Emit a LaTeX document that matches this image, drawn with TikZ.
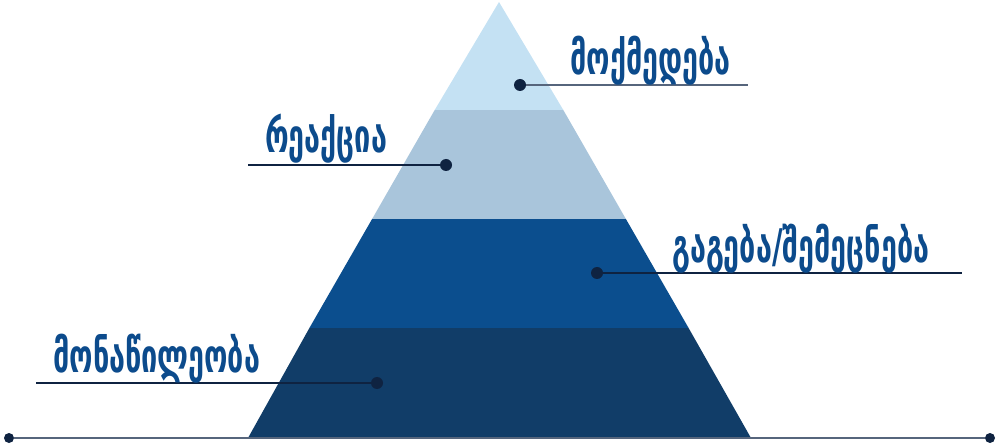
\documentclass[tikz,border=0pt]{standalone}
\usepackage{fontspec}
\newfontfamily\geo{DejaVu Sans Condensed}
\definecolor{bandA}{HTML}{C4E1F3}
\definecolor{bandB}{HTML}{A9C5DB}
\definecolor{bandC}{HTML}{0B4E8E}
\definecolor{bandD}{HTML}{113D68}
\definecolor{dotc}{HTML}{0F2341}
\definecolor{leadc}{HTML}{56657C}
\definecolor{txtc}{HTML}{0C4B8C}
\newcommand{\tallgeo}[1]{\scalebox{1}[1.45]{#1}}
\tikzset{
  dotn/.style={circle,fill=dotc,inner sep=0pt,minimum size=12pt},
  lead/.style={draw=leadc,line width=1.3pt},
  lbl/.style={font=\geo\bfseries\fontsize{32}{32}\selectfont,text=txtc,inner sep=0pt,anchor=base west}
}
\begin{document}
\begin{tikzpicture}[x=1pt,y=-1pt]
\useasboundingbox (0,0) rectangle (999,446);
% pyramid bands
\fill[bandD] (248,438) -- (751,438) -- (688.6,328) -- (309.4,328) -- cycle;
\fill[bandC] (309.4,328) -- (688.6,328) -- (625.9,219) -- (372.1,219) -- cycle;
\fill[bandB] (372.1,219) -- (625.9,219) -- (563.3,110) -- (434.7,110) -- cycle;
\fill[bandA] (434.7,110) -- (563.3,110) -- (499,2) -- cycle;
% base line
\node[dotn,minimum size=10pt] (b1) at (9,438) {};
\node[dotn,minimum size=10pt] (b2) at (990,438) {};
\draw[lead] (b1) -- (b2);
% labels
\node[dotn] (d1) at (520,85) {};
\coordinate (e1) at (748,85);
\draw[lead] (d1) -- (e1);
\node[lbl] (t1) at (570,75) {\tallgeo{მოქმედება}};

\node[dotn] (d2) at (446,165) {};
\coordinate (e2) at (248,165);
\draw[lead,draw=dotc] (d2) -- (e2);
\node[lbl] (t2) at (265,153) {\tallgeo{რეაქცია}};

\node[dotn] (d3) at (597,273) {};
\coordinate (e3) at (962,273);
\draw[lead,draw=dotc] (d3) -- (e3);
\node[lbl] (t3) at (672,263) {\tallgeo{გაგება/შემეცნება}};

\node[dotn] (d4) at (377,383) {};
\coordinate (e4) at (36,383);
\draw[lead,draw=dotc] (d4) -- (e4);
\node[lbl] (t4) at (53,373) {\tallgeo{მონაწილეობა}};
\end{tikzpicture}
\end{document}
